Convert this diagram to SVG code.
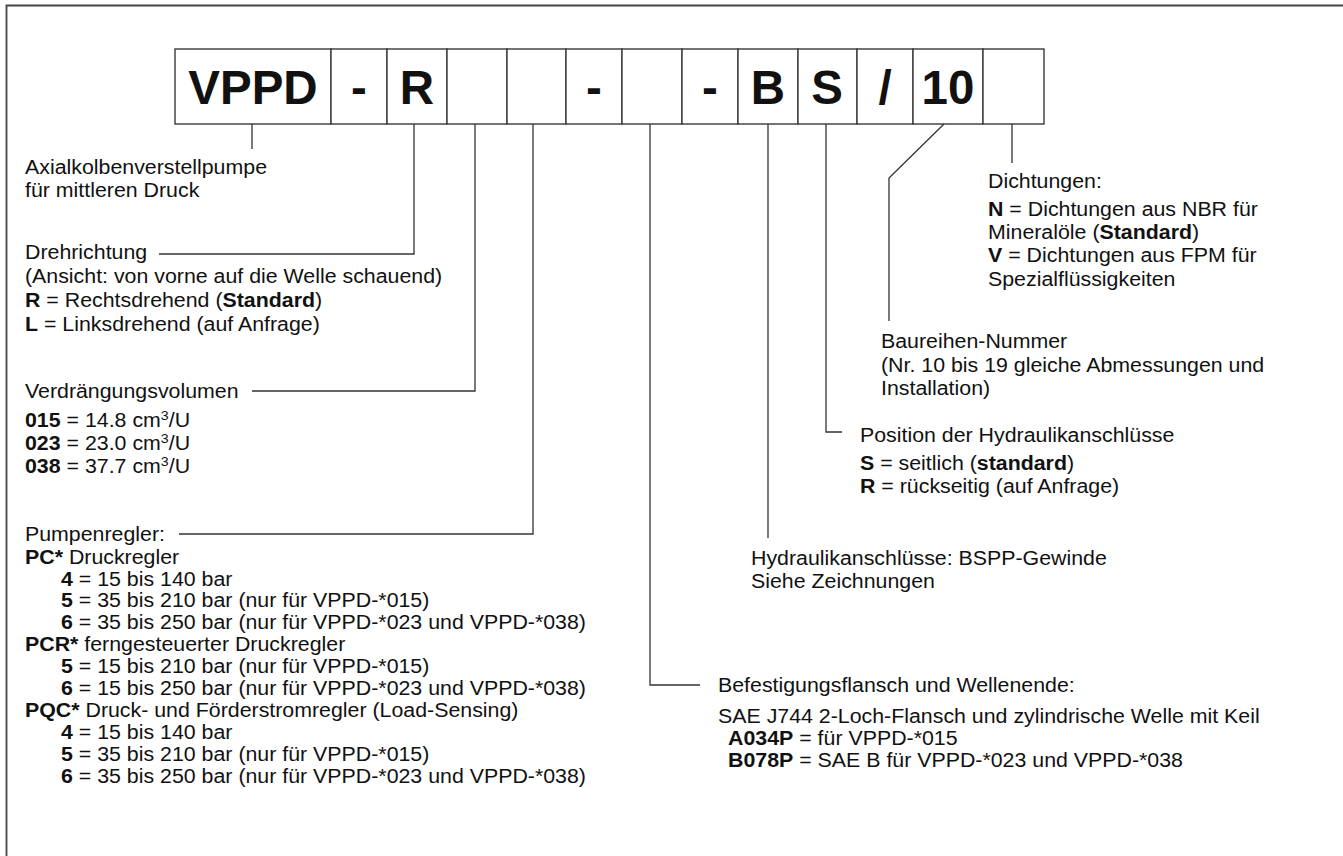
<svg xmlns="http://www.w3.org/2000/svg" width="1343" height="856" viewBox="0 0 1343 856">
<style>
text{font-family:"Liberation Sans",Arial,sans-serif;fill:#111}
.t{font-size:19.5px;transform-box:fill-box;transform-origin:0% 50%;transform:scaleX(1.095)}
.b{font-weight:bold}
.cell{fill:#fff;stroke:#3a3a3a;stroke-width:1.4}
.code{font-size:47.5px;font-weight:bold;text-anchor:middle}
.con{fill:none;stroke:#333;stroke-width:1.3}
.frame{fill:none;stroke:#444;stroke-width:1.8}
</style>
<rect width="1343" height="856" fill="#fff"/>
<path class="frame" d="M6.5,856 V5.5 H1343"/>

<g id="code">
<rect class="cell" x="175" y="49" width="156" height="75"/>
<rect class="cell" x="331" y="49" width="56" height="75"/>
<rect class="cell" x="387" y="49" width="60" height="75"/>
<rect class="cell" x="447" y="49" width="60" height="75"/>
<rect class="cell" x="507" y="49" width="59" height="75"/>
<rect class="cell" x="566" y="49" width="56" height="75"/>
<rect class="cell" x="622" y="49" width="60" height="75"/>
<rect class="cell" x="682" y="49" width="56" height="75"/>
<rect class="cell" x="738" y="49" width="60" height="75"/>
<rect class="cell" x="798" y="49" width="59" height="75"/>
<rect class="cell" x="857" y="49" width="56" height="75"/>
<rect class="cell" x="913" y="49" width="70" height="75"/>
<rect class="cell" x="983" y="49" width="61" height="75"/>
<text class="code" x="253" y="104">VPPD</text>
<text class="code" x="359" y="104">-</text>
<text class="code" x="417" y="104">R</text>
<text class="code" x="594" y="104">-</text>
<text class="code" x="710" y="104">-</text>
<text class="code" x="768" y="104">B</text>
<text class="code" x="827" y="104">S</text>
<text class="code" x="885" y="104">/</text>
<text class="code" x="948" y="104">10</text>
</g>

<g id="connectors">
<path class="con" d="M252,124 V149"/>
<path class="con" d="M414,124 V254 H159"/>
<path class="con" d="M475,124 V391 H252"/>
<path class="con" d="M533,124 V534 H179"/>
<path class="con" d="M650,124 V685 H700"/>
<path class="con" d="M768,124 V538"/>
<path class="con" d="M826,124 V432 H842"/>
<path class="con" d="M944,124 L889,178 V321"/>
<path class="con" d="M1012,124 V163"/>
</g>

<g id="pumpe">
<text class="t" x="25" y="174">Axialkolbenverstellpumpe</text>
<text class="t" x="25" y="197">für mittleren Druck</text>
</g>

<g id="drehrichtung">
<text class="t" x="25" y="259">Drehrichtung</text>
<text class="t" x="25" y="283">(Ansicht: von vorne auf die Welle schauend)</text>
<text class="t" x="25" y="307"><tspan class="b">R</tspan> = Rechtsdrehend (<tspan class="b">Standard</tspan>)</text>
<text class="t" x="25" y="331"><tspan class="b">L</tspan> = Linksdrehend (auf Anfrage)</text>
</g>

<g id="volumen">
<text class="t" x="25" y="398">Verdrängungsvolumen</text>
<text class="t" x="25" y="427"><tspan class="b">015</tspan> = 14.8 cm<tspan dy="-7" font-size="13">3</tspan><tspan dy="7">/U</tspan></text>
<text class="t" x="25" y="450"><tspan class="b">023</tspan> = 23.0 cm<tspan dy="-7" font-size="13">3</tspan><tspan dy="7">/U</tspan></text>
<text class="t" x="25" y="473"><tspan class="b">038</tspan> = 37.7 cm<tspan dy="-7" font-size="13">3</tspan><tspan dy="7">/U</tspan></text>
</g>

<g id="regler">
<text class="t" x="25" y="541">Pumpenregler:</text>
<text class="t" x="25" y="564"><tspan class="b">PC*</tspan> Druckregler</text>
<text class="t" x="61" y="586"><tspan class="b">4</tspan> = 15 bis 140 bar</text>
<text class="t" x="61" y="607"><tspan class="b">5</tspan> = 35 bis 210 bar (nur für VPPD-*015)</text>
<text class="t" x="61" y="629"><tspan class="b">6</tspan> = 35 bis 250 bar (nur für VPPD-*023 und VPPD-*038)</text>
<text class="t" x="25" y="651"><tspan class="b">PCR*</tspan> ferngesteuerter Druckregler</text>
<text class="t" x="61" y="673"><tspan class="b">5</tspan> = 15 bis 210 bar (nur für VPPD-*015)</text>
<text class="t" x="61" y="695"><tspan class="b">6</tspan> = 15 bis 250 bar (nur für VPPD-*023 und VPPD-*038)</text>
<text class="t" x="25" y="717"><tspan class="b">PQC*</tspan> Druck- und Förderstromregler (Load-Sensing)</text>
<text class="t" x="61" y="739"><tspan class="b">4</tspan> = 15 bis 140 bar</text>
<text class="t" x="61" y="761"><tspan class="b">5</tspan> = 35 bis 210 bar (nur für VPPD-*015)</text>
<text class="t" x="61" y="783"><tspan class="b">6</tspan> = 35 bis 250 bar (nur für VPPD-*023 und VPPD-*038)</text>
</g>

<g id="flansch">
<text class="t" x="718" y="692">Befestigungsflansch und Wellenende:</text>
<text class="t" x="718" y="723">SAE J744 2-Loch-Flansch und zylindrische Welle mit Keil</text>
<text class="t" x="728" y="745"><tspan class="b">A034P</tspan> = für VPPD-*015</text>
<text class="t" x="728" y="767"><tspan class="b">B078P</tspan> = SAE B für VPPD-*023 und VPPD-*038</text>
</g>

<g id="anschluesse">
<text class="t" x="751" y="565">Hydraulikanschlüsse: BSPP-Gewinde</text>
<text class="t" x="751" y="588">Siehe Zeichnungen</text>
</g>

<g id="position">
<text class="t" x="860" y="442">Position der Hydraulikanschlüsse</text>
<text class="t" x="860" y="470"><tspan class="b">S</tspan> = seitlich (<tspan class="b">standard</tspan>)</text>
<text class="t" x="860" y="493"><tspan class="b">R</tspan> = rückseitig (auf Anfrage)</text>
</g>

<g id="baureihe">
<text class="t" x="881" y="348">Baureihen-Nummer</text>
<text class="t" x="881" y="372">(Nr. 10 bis 19 gleiche Abmessungen und</text>
<text class="t" x="881" y="395">Installation)</text>
</g>

<g id="dichtungen">
<text class="t" x="988" y="188">Dichtungen:</text>
<text class="t" x="988" y="216"><tspan class="b">N</tspan> = Dichtungen aus NBR für</text>
<text class="t" x="988" y="239">Mineralöle (<tspan class="b">Standard</tspan>)</text>
<text class="t" x="988" y="262"><tspan class="b">V</tspan> = Dichtungen aus FPM für</text>
<text class="t" x="988" y="286">Spezialflüssigkeiten</text>
</g>
</svg>
